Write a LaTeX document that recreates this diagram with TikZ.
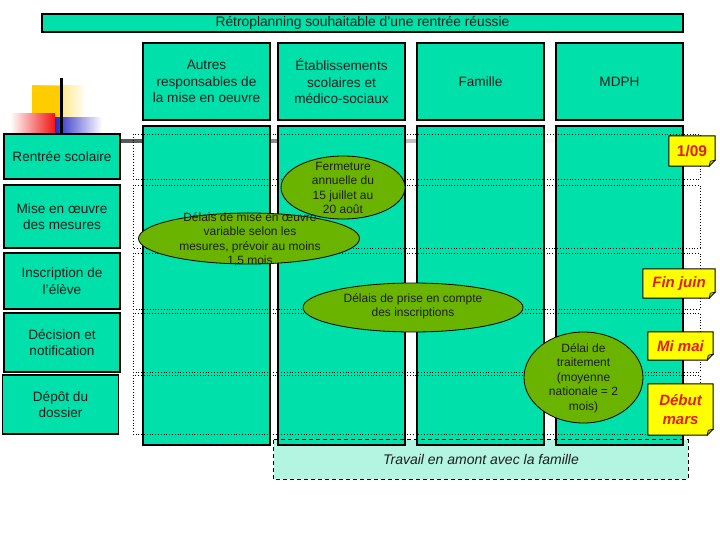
\documentclass[tikz,border=0pt]{standalone}
\usepackage{fontspec}
\setmainfont{Liberation Sans}
\usetikzlibrary{shapes.geometric}

\definecolor{planvert}{RGB}{0,224,170}
\definecolor{ovalvert}{RGB}{106,180,0}
\definecolor{notejaune}{RGB}{255,255,0}
\definecolor{rougedate}{RGB}{225,30,20}
\definecolor{fondamont}{RGB}{180,245,226}
\definecolor{texte}{RGB}{30,30,30}
\definecolor{decojaune}{RGB}{255,204,0}
\definecolor{decorouge}{RGB}{240,20,20}
\definecolor{decobleu}{RGB}{40,40,200}

% ---------- macro for one yellow date note ----------
% #1 = extra options, #2 = name, #3/#4 = centre, #5/#6 = size, #7 = text
\newcommand{\datenote}[7][]{
    \node[datenote, minimum width=#5pt, minimum height=#6pt, #1] (#2) at (#3,#4) {#7};
    % outline with the cut corner
    \draw[line width=1pt] (#2.north west) -- (#2.north east) -- ([yshift=6pt]#2.south east)
        -- ([xshift=-6pt]#2.south east) -- (#2.south west) -- cycle;
    \fill[white] ([yshift=5.5pt]#2.south east) -- ([xshift=0.6pt,yshift=-0.6pt]#2.south east)
        -- ([xshift=-5.5pt]#2.south east) -- cycle;
    % folded corner
    \filldraw[fill=notejaune!75!black, line width=0.6pt] ([yshift=6pt]#2.south east)
        -- ([xshift=-6pt]#2.south east) -- ([xshift=-5pt,yshift=5pt]#2.south east) -- cycle;
}

\begin{document}
\begin{tikzpicture}[
    x=1pt, y=-1pt,
    every node/.style={font=\fontsize{13.6}{16.5}\selectfont, text=texte},
    banner/.style={draw, line width=1.2pt, fill=planvert, inner sep=0pt},
    header/.style={draw, line width=1.2pt, fill=planvert, align=center,
        minimum width=127pt, minimum height=77pt, inner sep=0pt},
    column/.style={draw, line width=1.2pt, fill=planvert,
        minimum width=127pt, minimum height=319pt, inner sep=0pt},
    rowlabel/.style={draw, line width=1.2pt, fill=planvert, align=center,
        minimum width=116pt, inner sep=0pt},
    rowline/.style={dotted, line width=0.8pt},
    oval/.style={ellipse, draw, line width=0.8pt, fill=ovalvert, inner sep=0pt},
    ovaltext/.style={align=center, font=\fontsize{12}{14.5}\selectfont},
    datenote/.style={fill=notejaune, inner sep=0pt, align=center, text=rougedate,
        font=\fontsize{15}{19}\selectfont\bfseries\itshape}
]
\useasboundingbox (0,0) rectangle (720,540);

% ---------- template decoration ----------
\shade[left color=decojaune, right color=white] (32,86) rectangle (86,134);
\fill[decojaune] (32,86) rectangle (62,134);
\shade[left color=white, right color=decorouge] (10,114) rectangle (55,134);
\shade[left color=decobleu, right color=white] (55,118) rectangle (102,134);
\shade[left color=black!75, right color=white] (61,139.5) rectangle (570,142.5);
\draw[line width=3pt] (61,78) -- (61,134);

% ---------- title ----------
\node[banner, minimum width=641pt, minimum height=18pt, font=\fontsize{13.8}{15}\selectfont]
    (titre) at (362.5,23) {Rétroplanning souhaitable d’une rentrée réussie};

% ---------- work upstream (fill behind the columns) ----------
\node[fill=fondamont, minimum width=414pt, minimum height=39pt, inner sep=0pt]
    (amont) at (481,459.5) {};

% ---------- the four actors: header + column ----------
\foreach \x/\n/\txt in {206.5/autres/{Autres\\responsables de\\la mise en oeuvre},
                        341.5/etab/{Établissements\\scolaires et\\médico-sociaux},
                        480.5/famille/Famille,
                        619.5/mdph/MDPH}{
    \node[header] (h-\n) at (\x,81.5) {\txt};
    \node[column] (c-\n) at (\x,285.5) {};
}

\draw[dashed, dash pattern=on 4pt off 3pt, line width=0.9pt] (amont.north west) rectangle (amont.south east);
\node[font=\fontsize{14}{16}\selectfont\itshape] (amont-txt) at (amont) {Travail en amont avec la famille};

% ---------- steps on the left + dotted rows ----------
\foreach \x/\y/\h/\n/\txt in {62/156.5/45/rentree/Rentrée scolaire,
                              62/216.5/63/mise/{Mise en œuvre\\des mesures},
                              62/281/56/inscr/{Inscription de\\l\char39élève},
                              62/342.5/59/decision/{Décision et\\notification},
                              60.5/404.5/59/depot/{Dépôt du\\dossier}}{
    \node[rowlabel, minimum height=\h pt] (r-\n) at (\x,\y) {\txt};
    \draw[rowline] (133,{\y-\h/2}) rectangle (700,{\y+\h/2});
}

% ---------- delays ----------
\node[oval, minimum width=124pt, minimum height=63pt] (o-fermeture) at (343,187.5) {};
\node[ovaltext] (t-fermeture) at (343,188) {Fermeture\\annuelle du\\15 juillet au\\20 août};

\node[oval, minimum width=221pt, minimum height=51pt] (o-mise) at (249,238.5) {};
\node[ovaltext] (t-mise) at (250,239.5) {Délais de mise en œuvre\\variable selon les\\mesures, prévoir au moins\\1,5 mois};

\node[oval, minimum width=220pt, minimum height=49pt] (o-prise) at (413,307.5) {};
\node[ovaltext] (t-prise) at (413,306.5) {Délais de prise en compte\\des inscriptions};

\node[oval, minimum width=119pt, minimum height=91pt] (o-traitement) at (583.5,377.5) {};
\node[ovaltext] (t-traitement) at (583.5,378) {Délai de\\traitement\\(moyenne\\nationale = 2\\mois)};

% ---------- dates ----------
\datenote[font=\fontsize{15.5}{19}\selectfont\bfseries]{d-rentree}{692}{151}{46}{30}{1/09}
\datenote{d-inscr}{679}{283.5}{72}{29}{Fin juin}
\datenote{d-decision}{680.5}{346}{65}{28}{Mi mai}
\datenote{d-depot}{680.5}{409.5}{65}{51}{Début\\mars}

\end{tikzpicture}
\end{document}
